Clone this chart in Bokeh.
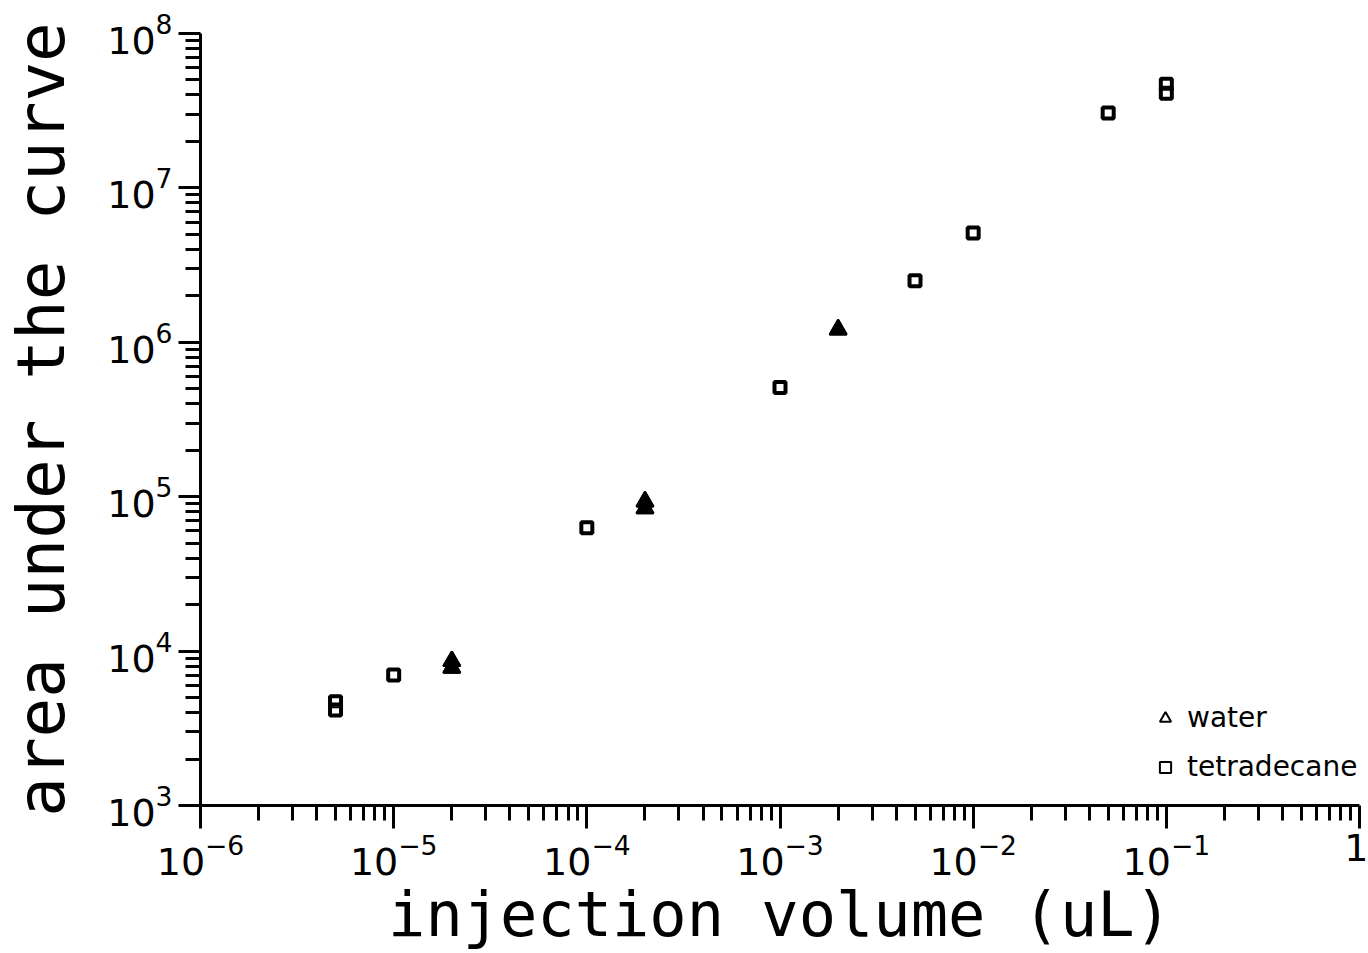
import numpy as np
from bokeh.plotting import figure
from bokeh.models import (Range1d, FixedTicker, LogTickFormatter, Legend, LegendItem)
from bokeh.embed import file_html
from bokeh.resources import INLINE

# ---------------- data ----------------
water_x = [2e-5, 2e-5, 2e-4, 2e-4, 2e-3]
water_y = [8.6e3, 7.8e3, 9.3e4, 8.4e4, 1.21e6]

tetra_x = [5e-6, 5e-6, 1e-5, 1e-4, 1e-3, 5e-3, 1e-2, 5e-2, 1e-1, 1e-1]
tetra_y = [4.7e3, 4.15e3, 7.0e3, 6.3e4, 5.1e5, 2.5e6, 5.1e6, 3.05e7, 4.7e7, 4.1e7]

x_exponents = [-6, -5, -4, -3, -2, -1, 0]
y_exponents = [3, 4, 5, 6, 7, 8]

x_title = "injection volume (uL)"
y_title = "area under the curve"
legend_labels = ["water", "tetradecane"]

# ---------------- figure ----------------
p = figure(width=1368, height=953, x_axis_type="log", y_axis_type="log",
           x_range=Range1d(10.0 ** x_exponents[0], 10.0 ** x_exponents[-1]),
           y_range=Range1d(10.0 ** y_exponents[0], 10.0 ** y_exponents[-1]),
           output_backend="svg", toolbar_location=None,
           min_border_left=199, min_border_right=9, min_border_top=33, min_border_bottom=148)
p.outline_line_color = None
p.grid.visible = False
p.background_fill_color = "white"
p.border_fill_color = "white"

x_major = [10.0 ** e for e in x_exponents]
x_minor = [k * 10.0 ** e for e in x_exponents[:-1] for k in range(2, 10)]
y_major = [10.0 ** e for e in y_exponents]
y_minor = [k * 10.0 ** e for e in y_exponents[:-1] for k in range(2, 10)]

xa = p.xaxis[0]
ya = p.yaxis[0]
xa.ticker = FixedTicker(ticks=x_major, minor_ticks=x_minor)
ya.ticker = FixedTicker(ticks=y_major, minor_ticks=y_minor)
for ax in (xa, ya):
    ax.formatter = LogTickFormatter()
    ax.axis_line_width = 3
    ax.axis_line_color = "black"
    ax.major_tick_line_width = 3
    ax.minor_tick_line_width = 3
    ax.major_tick_line_color = "black"
    ax.minor_tick_line_color = "black"
    ax.major_tick_in = 0
    ax.minor_tick_in = 0
    ax.minor_tick_out = 15
    ax.major_label_text_font = "DejaVu Sans"
    ax.major_label_text_font_size = "38px"
    ax.major_label_text_color = "black"
    ax.axis_label_text_font = "DejaVu Sans Mono"
    ax.axis_label_text_font_style = "normal"
    ax.axis_label_text_color = "black"
xa.major_tick_out = 23
ya.major_tick_out = 22
xa.major_label_overrides = {1: "1"}
xa.major_label_standoff = 5
ya.major_label_standoff = 6
xa.axis_label = x_title
ya.axis_label = y_title
xa.axis_label_text_font_size = "62px"
ya.axis_label_text_font_size = "66px"
xa.axis_label_standoff = 0
ya.axis_label_standoff = 24

# ---------------- data marks ----------------
p.scatter(tetra_x, tetra_y, marker="square", size=11, fill_color="white",
          line_color="black", line_width=4)
p.scatter(water_x, water_y, marker="triangle", size=17, fill_color="black",
          line_color="black", line_width=2)

# thin open outlines drawn over the same points; they supply the legend glyphs
lw = p.scatter(water_x, water_y, marker="triangle", size=17, fill_alpha=0,
               line_color="black", line_width=2)
lt = p.scatter(tetra_x, tetra_y, marker="square", size=11, fill_alpha=0,
               line_color="black", line_width=2)

legend = Legend(items=[LegendItem(label=legend_labels[0], renderers=[lw]),
                       LegendItem(label=legend_labels[1], renderers=[lt])],
                location=(951, 22), border_line_color=None, background_fill_alpha=0,
                padding=0, margin=0, spacing=16, glyph_width=28, glyph_height=28,
                label_standoff=8, label_height=28,
                label_text_font="DejaVu Sans", label_text_font_size="28px",
                label_text_color="black")
p.add_layout(legend)

open("out.html", "w").write(file_html(p, INLINE))
